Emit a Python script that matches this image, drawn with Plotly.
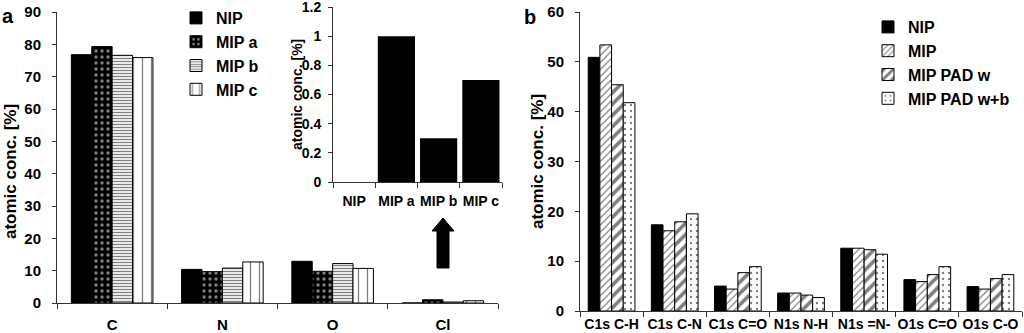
import plotly.graph_objects as go

# ---------------- data ----------------
elements = ["C", "N", "O", "Cl"]
nip_a = [76.8, 10.4, 12.9, 0.0]
mip_a = [79.3, 9.7, 9.8, 1.0]
mip_b = [76.6, 10.8, 12.2, 0.3]
mip_c = [75.9, 12.7, 10.7, 0.7]

inset_cats = ["NIP", "MIP a", "MIP b", "MIP c"]
inset_vals = [0.0, 1.0, 0.3, 0.7]

bonds = ["C1s C-H", "C1s C-N", "C1s C=O", "N1s N-H", "N1s =N-", "O1s C=O", "O1s C-O"]
nip_r = [50.9, 17.3, 5.0, 3.6, 12.6, 6.3, 4.9]
mip_r = [53.4, 16.1, 4.4, 3.6, 12.6, 5.9, 4.4]
pad_w = [45.4, 17.9, 7.7, 3.2, 12.3, 7.3, 6.5]
pad_wb = [41.8, 19.5, 8.9, 2.7, 11.4, 8.9, 7.3]

FONT = "Liberation Sans, Arial, sans-serif"
W, H = 1024, 333


def px(x):
    return min(1.0, max(0.0, x / W))


def py(y):
    return min(1.0, max(0.0, 1 - y / H))


LINE = dict(color="black", width=1)

fig = go.Figure()

# ---------------- panel a ----------------
fig.add_bar(x=elements, y=nip_a, name="NIP", xaxis="x", yaxis="y", legend="legend",
            marker=dict(color="black", line=LINE))
fig.add_bar(x=elements, y=mip_a, name="MIP a", xaxis="x", yaxis="y", legend="legend",
            marker=dict(color="black", line=LINE,
                        pattern=dict(shape=".", fgcolor="white", bgcolor="black",
                                     size=6, solidity=0.25)))
fig.add_bar(x=elements, y=mip_b, name="MIP b", xaxis="x", yaxis="y", legend="legend",
            marker=dict(color="white", line=LINE,
                        pattern=dict(shape="-", fgcolor="black", bgcolor="white",
                                     size=3, solidity=0.45)))
fig.add_bar(x=elements, y=mip_c, name="MIP c", xaxis="x", yaxis="y", legend="legend",
            marker=dict(color="white", line=LINE,
                        pattern=dict(shape="|", fgcolor="black", bgcolor="white",
                                     size=9, solidity=0.14)))

# inset
fig.add_bar(x=inset_cats, y=inset_vals, name="Cl", xaxis="x3", yaxis="y3",
            showlegend=False, width=0.88,
            marker=dict(color="black", line=dict(width=0)))

# ---------------- panel b ----------------
fig.add_bar(x=bonds, y=nip_r, name="NIP", xaxis="x2", yaxis="y2", legend="legend2",
            marker=dict(color="black", line=LINE))
fig.add_bar(x=bonds, y=mip_r, name="MIP", xaxis="x2", yaxis="y2", legend="legend2",
            marker=dict(color="white", line=LINE,
                        pattern=dict(shape="/", fgcolor="black", bgcolor="white",
                                     size=5, solidity=0.25)))
fig.add_bar(x=bonds, y=pad_w, name="MIP PAD w", xaxis="x2", yaxis="y2", legend="legend2",
            marker=dict(color="white", line=LINE,
                        pattern=dict(shape="/", fgcolor="black", bgcolor="white",
                                     size=8, solidity=0.45)))
fig.add_bar(x=bonds, y=pad_wb, name="MIP PAD w+b", xaxis="x2", yaxis="y2", legend="legend2",
            marker=dict(color="white", line=LINE,
                        pattern=dict(shape=".", fgcolor="black", bgcolor="white",
                                     size=6, solidity=0.12)))

axis_common = dict(showline=True, linecolor="#333", linewidth=1, showgrid=False,
                   zeroline=False, ticks="outside", tickcolor="#333", ticklen=4,
                   automargin=False, ticklabeloverflow="allow",
                   tickfont=dict(family=FONT, size=15, color="black", weight="bold"))

xcat = dict(axis_common, type="category", tickson="boundaries", ticklen=5, tickangle=0)

fig.update_layout(
    width=W, height=H,
    margin=dict(l=0, r=0, t=0, b=0, autoexpand=False),
    paper_bgcolor="white", plot_bgcolor="rgba(0,0,0,0)",
    barmode="group", bargap=0.26, bargroupgap=0,
    font=dict(family=FONT, color="black"),
    xaxis=dict(xcat, domain=[px(57), px(498)], anchor="y", ticklabelstandoff=8),
    yaxis=dict(axis_common, domain=[py(303), py(12)], anchor="x",
               range=[0, 90.001], dtick=10, ticklabelstandoff=8),
    xaxis2=dict(xcat, domain=[px(580), px(1022)], anchor="y2", ticklabelstandoff=0,
                tickfont=dict(family=FONT, size=14, color="black", weight="bold")),
    yaxis2=dict(axis_common, domain=[py(311), py(12)], anchor="x2",
                range=[0, 60.001], dtick=10, ticklabelstandoff=8),
    xaxis3=dict(xcat, domain=[px(333), px(502)], anchor="y3", ticklabelstandoff=6,
                tickfont=dict(family=FONT, size=14, color="black", weight="bold")),
    yaxis3=dict(axis_common, domain=[py(182), py(7)], anchor="x3",
                range=[0, 1.2001], dtick=0.2, ticklabelstandoff=4,
                tickfont=dict(family=FONT, size=14, color="black", weight="bold")),
    legend=dict(x=px(176), y=py(1), xanchor="left", yanchor="top",
                bgcolor="rgba(0,0,0,0)", itemwidth=30, traceorder="normal",
                font=dict(family=FONT, size=16, color="black", weight="bold")),
    legend2=dict(x=px(868), y=py(10), xanchor="left", yanchor="top",
                 bgcolor="rgba(0,0,0,0)", itemwidth=30, traceorder="normal",
                 font=dict(family=FONT, size=16, color="black", weight="bold")),
)

title_font = dict(family=FONT, size=17, color="black", weight="bold")
annos = [
    dict(text="atomic conc. [%]", x=px(10), y=py(172), textangle=-90, font=title_font),
    dict(text="atomic conc. [%]", x=px(537), y=py(162), textangle=-90, font=title_font),
    dict(text="atomic conc. [%]", x=px(297), y=py(95), textangle=-90,
         font=dict(family=FONT, size=14, color="black", weight="bold")),
    dict(text="a", x=px(8), y=py(16), font=dict(family=FONT, size=20, color="black", weight="bold")),
    dict(text="b", x=px(530), y=py(17), font=dict(family=FONT, size=20, color="black", weight="bold")),
]
for a in annos:
    a.update(xref="paper", yref="paper", showarrow=False, xanchor="center", yanchor="middle")
    fig.add_annotation(**a)

# upward arrow pointing to the inset
arrow = [(437, 268), (449, 268), (449, 231), (454, 231), (443, 218), (432, 231), (437, 231)]
path = "M " + " L ".join(f"{px(x):.5f},{py(y):.5f}" for x, y in arrow) + " Z"
fig.add_shape(type="path", path=path, xref="paper", yref="paper",
              fillcolor="black", line=dict(color="black", width=1))

fig.write_html("out.html", config={"displayModeBar": False},
               post_script="document.body.style.margin='0';document.body.style.overflow='hidden';")
